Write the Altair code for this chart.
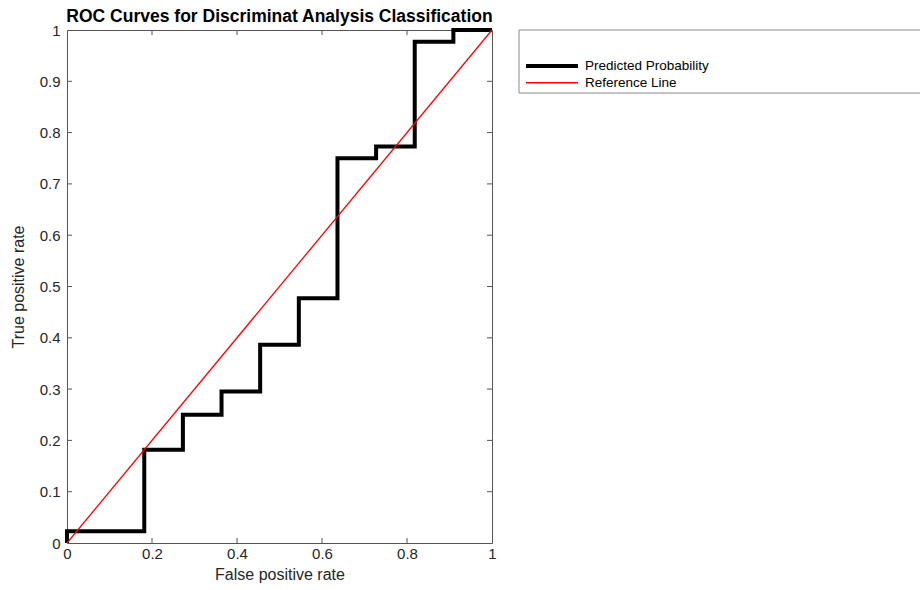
import altair as alt
import pandas as pd

# ROC curve corner points (false positive rate, true positive rate)
fpr = [0, 0, 0.1818, 0.1818, 0.2727, 0.2727, 0.3636, 0.3636, 0.4545, 0.4545,
       0.5455, 0.5455, 0.6364, 0.6364, 0.7273, 0.7273, 0.8182, 0.8182, 0.9091, 0.9091, 1]
tpr = [0, 0.0227, 0.0227, 0.1818, 0.1818, 0.25, 0.25, 0.2955, 0.2955, 0.3864,
       0.3864, 0.4773, 0.4773, 0.75, 0.75, 0.7727, 0.7727, 0.9773, 0.9773, 1, 1]
ref_x = [0, 1]
ref_y = [0, 1]
series_names = ["Predicted Probability", "Reference Line"]
x_ticks = [0, 0.2, 0.4, 0.6, 0.8, 1]
y_ticks = [0, 0.1, 0.2, 0.3, 0.4, 0.5, 0.6, 0.7, 0.8, 0.9, 1]

W, H = 425, 513
FONT = "Liberation Sans"
AX = "#262626"

rows = []
for i, (a, b) in enumerate(zip(fpr, tpr)):
    rows.append({"x": a, "y": b, "series": series_names[0], "i": i})
for i, (a, b) in enumerate(zip(ref_x, ref_y)):
    rows.append({"x": a, "y": b, "series": series_names[1], "i": i})
df = pd.DataFrame(rows)

xs = alt.Scale(domain=[0, 1], nice=False, zero=False)
ys = alt.Scale(domain=[0, 1], nice=False, zero=False)

legend = alt.Legend(
    title=None, orient="none", legendX=457, legendY=29,
    symbolType="M-1,0H9.4", symbolSize=100, symbolStrokeColor=None,
    symbolFillColor="transparent",
    labelFont=FONT, labelFontSize=13.5, labelColor="#000",
    rowPadding=1, labelOffset=47, padding=0,
)

lines = alt.Chart(df).mark_line(clip=False).encode(
    x=alt.X("x:Q", scale=xs, axis=alt.Axis(
        values=x_ticks, format="~g", title="False positive rate", grid=False,
        tickSize=0, labelPadding=3, titlePadding=5, domain=False, labelFlush=False)),
    y=alt.Y("y:Q", scale=ys, axis=alt.Axis(
        values=y_ticks, format="~g", title="True positive rate", grid=False,
        tickSize=0, labelPadding=7, titlePadding=13, domain=False, labelFlush=False)),
    color=alt.Color("series:N", scale=alt.Scale(domain=series_names, range=["#000000", "#ff0000"]), legend=legend),
    strokeWidth=alt.StrokeWidth("series:N", scale=alt.Scale(domain=series_names, range=[4, 1.3]), legend=legend),
    detail="series:N",
    order="i:Q",
)

xt = pd.DataFrame({"v": x_ticks[1:-1]})
yt = pd.DataFrame({"v": y_ticks[1:-1]})
tick_style = dict(color="#555", strokeWidth=1)
xb = alt.Chart(xt).mark_rule(**tick_style).encode(x=alt.X("v:Q", scale=xs), y=alt.value(H), y2=alt.value(H - 5))
xtp = alt.Chart(xt).mark_rule(**tick_style).encode(x=alt.X("v:Q", scale=xs), y=alt.value(0), y2=alt.value(5))
yl = alt.Chart(yt).mark_rule(**tick_style).encode(y=alt.Y("v:Q", scale=ys), x=alt.value(0), x2=alt.value(5))
yr = alt.Chart(yt).mark_rule(**tick_style).encode(y=alt.Y("v:Q", scale=ys), x=alt.value(W - 5), x2=alt.value(W))

frame = alt.Chart(pd.DataFrame({"a": [0]})).mark_rect(
    fill="white", fillOpacity=0, stroke="#8a8a8a", strokeWidth=1, clip=False
).encode(x=alt.value(452), x2=alt.value(870), y=alt.value(0), y2=alt.value(63))

chart = alt.layer(xb, xtp, yl, yr, frame, lines).properties(
    width=W, height=H,
    title=alt.Title("ROC Curves for Discriminat Analysis Classification",
                    font=FONT, fontSize=17.5, fontWeight="bold", color="#000",
                    anchor="middle", frame="group", offset=-3),
    autosize=alt.AutoSizeParams(type="none"),
    padding={"left": 67, "top": 30, "right": 428, "bottom": 47},
    background="white",
).configure_view(stroke="#555", strokeWidth=1).configure_axis(
    labelFont=FONT, labelFontSize=15, labelColor=AX,
    titleFont=FONT, titleFontSize=16, titleColor=AX, titleFontWeight="normal",
)

chart.save("out.html", embed_options={"renderer": "svg", "actions": False})
